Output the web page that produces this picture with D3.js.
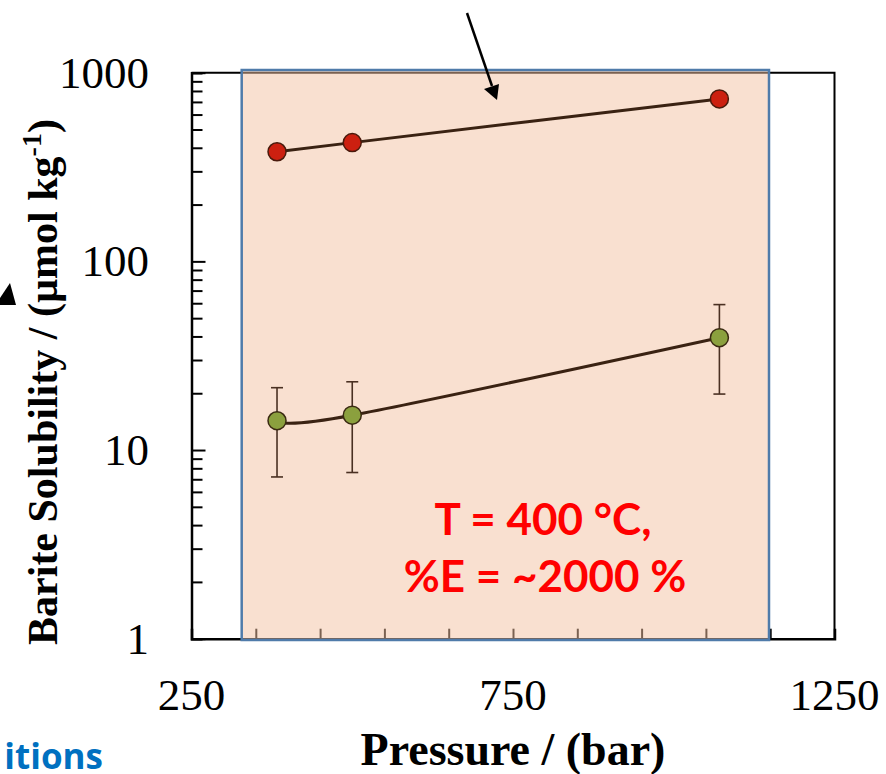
<!DOCTYPE html>
<html lang="en">
<head>
    <meta charset="UTF-8">
    <title>Barite Solubility vs Pressure</title>
    <style>
        body { margin: 0; background: #fff; }
        svg { display: block; }
        .tick-label { font-family: "Liberation Serif", "Times New Roman", serif; font-size: 45px; fill: #000; }
        .axis-title { font-family: "Liberation Serif", "Times New Roman", serif; font-weight: bold; fill: #000; }
    </style>
    <script src="https://d3js.org/d3.v7.min.js"></script>
</head>
<body>
    <div id="chart"></div>

    <script>
        const width = 886;
        const height = 774;

        // Data
        const pressure = [383, 500, 1071];
        const highSolubility = [381, 426, 726];
        const lowSolubility = [14.3, 15.3, 39.4];
        const lowError = [7.1, 7.7, 19.6];

        const xTickLabels = [250, 750, 1250];
        const yTickLabels = [1, 10, 100, 1000];

        // Plot frame
        const plotLeft = 191.5, plotRight = 834.5, plotTop = 72.7, plotBottom = 638.7;

        const x = d3.scaleLinear().domain([250, 1250]).range([plotLeft, plotRight]);
        const y = d3.scaleLog().domain([1, 1000]).range([plotBottom, plotTop]);

        const svg = d3.select("#chart")
            .append("svg")
            .attr("width", width)
            .attr("height", height);

        // Frame (top and right lines)
        svg.append("path")
            .attr("d", `M${plotLeft},${plotTop}H${plotRight}V${plotBottom}`)
            .attr("fill", "none")
            .attr("stroke", "#000")
            .attr("stroke-width", 2);

        // Left axis: log ticks pointing inward
        const yMinor = [];
        for (let d = 1; d < 1000; d *= 10) {
            for (let k = 2; k <= 9; k++) yMinor.push(d * k);
        }
        const yAxis = d3.axisRight(y)
            .tickValues(yMinor)
            .tickSize(11)
            .tickFormat("");
        svg.append("g")
            .attr("transform", `translate(${plotLeft},0)`)
            .call(yAxis)
            .call(g => g.selectAll("line").attr("stroke", "#000").attr("stroke-width", 2))
            .call(g => g.select(".domain").attr("stroke", "#000").attr("stroke-width", 2.5));

        const yMajor = d3.axisRight(y)
            .tickValues(yTickLabels)
            .tickSize(14)
            .tickFormat("");
        svg.append("g")
            .attr("transform", `translate(${plotLeft},0)`)
            .call(yMajor)
            .call(g => g.selectAll("line").attr("stroke", "#000").attr("stroke-width", 2))
            .call(g => g.select(".domain").remove());

        svg.append("g")
            .selectAll("text")
            .data(yTickLabels)
            .enter().append("text")
            .attr("class", "tick-label")
            .attr("x", 149)
            .attr("y", d => y(d) + 15)
            .attr("text-anchor", "end")
            .text(d => d);

        // Bottom axis: ticks every 100 bar pointing up
        const xAxis = d3.axisTop(x)
            .tickValues(d3.range(350, 1250, 100))
            .tickSize(10)
            .tickFormat("");
        svg.append("g")
            .attr("transform", `translate(0,${plotBottom})`)
            .call(xAxis)
            .call(g => g.selectAll("line").attr("stroke", "#000").attr("stroke-width", 2))
            .call(g => g.select(".domain").attr("stroke", "#000").attr("stroke-width", 2.5));

        svg.append("g")
            .selectAll("text")
            .data(xTickLabels)
            .enter().append("text")
            .attr("class", "tick-label")
            .attr("x", d => x(d))
            .attr("y", 710)
            .attr("text-anchor", "middle")
            .text(d => d);

        // Axis titles
        svg.append("text")
            .attr("class", "axis-title")
            .attr("x", 513)
            .attr("y", 765)
            .attr("text-anchor", "middle")
            .style("font-size", "46px")
            .text("Pressure / (bar)");

        const yTitle = svg.append("text")
            .attr("class", "axis-title")
            .attr("transform", "translate(57,382) rotate(-90)")
            .attr("text-anchor", "middle")
            .style("font-size", "42px");
        yTitle.append("tspan").text("Barite Solubility / (µmol kg");
        yTitle.append("tspan").attr("dy", -16).style("font-size", "28px").text("-1");
        yTitle.append("tspan").attr("dy", 16).text(")");

        // Shaded pressure window (semi-transparent over the axes)
        svg.append("rect")
            .attr("x", 241.7)
            .attr("y", 70)
            .attr("width", 769 - 241.7)
            .attr("height", 640 - 70)
            .attr("fill", "#F3C1A1")
            .attr("fill-opacity", 0.5)
            .attr("stroke", "#4F7BAA")
            .attr("stroke-width", 2.5);

        // Smoothed lines
        const line = d3.line()
            .x((d, i) => x(pressure[i]))
            .y(d => y(d))
            .curve(d3.curveCatmullRom.alpha(0));

        [highSolubility, lowSolubility].forEach(series => {
            svg.append("path")
                .attr("d", line(series))
                .attr("fill", "none")
                .attr("stroke", "#3A2212")
                .attr("stroke-width", 3);
        });

        // Error bars for the low series
        const err = svg.append("g")
            .attr("stroke", "#4A3022")
            .attr("stroke-width", 1.6);
        lowSolubility.forEach((v, i) => {
            const cx = x(pressure[i]);
            const y1 = y(v + lowError[i]);
            const y2 = y(v - lowError[i]);
            err.append("line").attr("x1", cx).attr("x2", cx).attr("y1", y1).attr("y2", y2);
            err.append("line").attr("x1", cx - 6).attr("x2", cx + 6).attr("y1", y1).attr("y2", y1);
            err.append("line").attr("x1", cx - 6).attr("x2", cx + 6).attr("y1", y2).attr("y2", y2);
        });

        // Points
        svg.append("g")
            .selectAll("circle")
            .data(highSolubility)
            .enter().append("circle")
            .attr("cx", (d, i) => x(pressure[i]))
            .attr("cy", d => y(d))
            .attr("r", 9)
            .attr("fill", "#CC2010")
            .attr("stroke", "#4A1A0C")
            .attr("stroke-width", 1.5);

        svg.append("g")
            .selectAll("circle")
            .data(lowSolubility)
            .enter().append("circle")
            .attr("cx", (d, i) => x(pressure[i]))
            .attr("cy", d => y(d))
            .attr("r", 9)
            .attr("fill", "#8BA03E")
            .attr("stroke", "#3A2A12")
            .attr("stroke-width", 1.5);

        // Annotation text
        const note = svg.append("g")
            .attr("font-family", "Lato, 'Open Sans', sans-serif")
            .attr("font-weight", "bold")
            .attr("font-size", "44px")
            .attr("fill", "#FF0000")
            .attr("text-anchor", "middle");
        note.append("text").attr("x", 543).attr("y", 535).text("T = 400 °C,");
        note.append("text").attr("x", 545).attr("y", 592).text("%E = ~2000 %");

        // Arrows (cropped from a larger figure)
        svg.append("line")
            .attr("x1", 467).attr("y1", 13)
            .attr("x2", 492).attr("y2", 86)
            .attr("stroke", "#000")
            .attr("stroke-width", 2.5);
        svg.append("path")
            .attr("d", "M497,100L484,89L499,84Z")
            .attr("fill", "#000");
        svg.append("path")
            .attr("d", "M0,298L10,283L16,305L0,305Z")
            .attr("fill", "#000");

        // Cropped caption fragment
        svg.append("text")
            .attr("x", 103)
            .attr("y", 769)
            .attr("text-anchor", "end")
            .attr("font-family", "'Open Sans', sans-serif")
            .attr("font-weight", "bold")
            .attr("font-size", "35px")
            .attr("fill", "#0070C0")
            .text("itions");
    </script>
</body>
</html>
